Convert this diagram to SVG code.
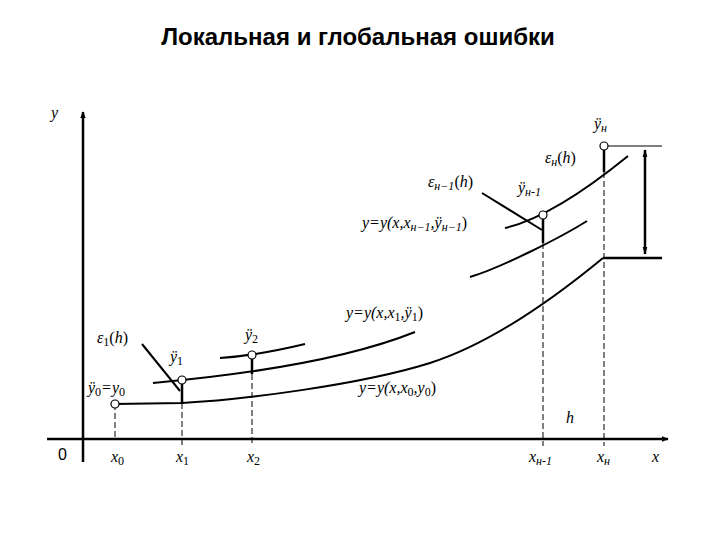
<svg xmlns="http://www.w3.org/2000/svg" width="720" height="540" viewBox="0 0 720 540">
<defs>
<marker id="ah" viewBox="0 0 10 10" refX="9" refY="5" markerWidth="7" markerHeight="7" orient="auto-start-reverse" markerUnits="userSpaceOnUse">
<path d="M0,1 L10,5 L0,9 z" fill="#000"/>
</marker>
<marker id="ah2" viewBox="0 0 10 10" refX="9" refY="5" markerWidth="8" markerHeight="8" orient="auto-start-reverse" markerUnits="userSpaceOnUse">
<path d="M0,2 L10,5 L0,8 z" fill="#000"/>
</marker>
</defs>
<style>
.t{font-family:'Liberation Serif','DejaVu Serif',serif;font-style:italic;font-size:16px;fill:#000}
.title{font-family:'Liberation Sans',Arial,sans-serif;font-weight:bold;font-size:24px;fill:#000}
.curve{fill:none;stroke:#000;stroke-width:2}
.thick{fill:none;stroke:#000;stroke-width:2.5}
.dash{fill:none;stroke:#000;stroke-width:1;stroke-dasharray:6,3}
.pt{fill:#fff;stroke:#000;stroke-width:1.2}
.sub{font-size:12px}
.up{font-style:normal}
</style>
<rect width="720" height="540" fill="#fff"/>
<text class="title" x="358" y="45" text-anchor="middle">Локальная и глобальная ошибки</text>

<g id="axes">
<line x1="47" y1="439" x2="668" y2="439" stroke="#000" stroke-width="2.5" marker-end="url(#ah)"/>
<line x1="83" y1="462" x2="83" y2="112" stroke="#000" stroke-width="2.5" marker-end="url(#ah)"/>
<text class="t" x="51" y="118">y</text>
<text x="58" y="460" style="font-family:'Liberation Sans',Arial,sans-serif;font-size:16px">0</text>
<text class="t" x="111" y="462">x<tspan class="sub up" dy="3">0</tspan></text>
<text class="t" x="176" y="462">x<tspan class="sub up" dy="3">1</tspan></text>
<text class="t" x="247" y="462">x<tspan class="sub up" dy="3">2</tspan></text>
<text class="t" x="529" y="462">x<tspan class="sub" dy="3">н-1</tspan></text>
<text class="t" x="597" y="462">x<tspan class="sub" dy="3">н</tspan></text>
<text class="t" x="652" y="462">x</text>
</g>

<g id="connectors">
<line class="dash" x1="115" y1="404" x2="115" y2="440"/>
<line class="dash" x1="182" y1="403" x2="182" y2="446"/>
<line class="dash" x1="252" y1="374" x2="252" y2="446"/>
<line class="dash" x1="543" y1="243" x2="543" y2="446"/>
<line class="dash" x1="604" y1="172" x2="604" y2="446"/>
<line class="thick" x1="182" y1="380" x2="182" y2="403"/>
<line class="thick" x1="252" y1="355" x2="252" y2="374"/>
<line class="thick" x1="543" y1="215" x2="543" y2="243"/>
<line class="thick" x1="604" y1="146" x2="604" y2="172"/>
<line class="curve" x1="142" y1="344" x2="180" y2="391"/>
<line class="curve" x1="482" y1="193" x2="542" y2="230"/>
<line x1="604" y1="146" x2="662" y2="146" stroke="#000" stroke-width="1.2"/>
<line x1="603" y1="258" x2="662" y2="258" stroke="#000" stroke-width="2.5"/>
<line x1="645" y1="150" x2="645" y2="254" stroke="#000" stroke-width="2.5" marker-start="url(#ah2)" marker-end="url(#ah2)"/>
</g>

<g id="curve-y0">
<path class="curve" d="M115,404 L182,403 C240,400 360,385 430,363 C480,347 540,310 603,258"/>
<text class="t" x="359" y="393">y=y(x,x<tspan class="sub up" dy="3">0</tspan><tspan dy="-3">,y</tspan><tspan class="sub up" dy="3">0</tspan><tspan class="up" dy="-3">)</tspan></text>
</g>
<g id="curve-y1">
<path class="curve" d="M153,383 C230,376 340,362 415,332"/>
<text class="t" x="346" y="318">y=y(x,x<tspan class="sub up" dy="3">1</tspan><tspan dy="-3">,ÿ</tspan><tspan class="sub up" dy="3">1</tspan><tspan class="up" dy="-3">)</tspan></text>
</g>
<g id="curve-y2">
<path class="curve" d="M220,358 C250,356 280,350 305,344"/>
</g>
<g id="curve-prev">
<path class="curve" d="M470,277 C500,268 560,238 587,221"/>
</g>
<g id="curve-yn1">
<path class="curve" d="M505,228 C540,220 580,195 628,156"/>
<text class="t" x="362" y="228">y=y(x,x<tspan class="sub" dy="3">н−1</tspan><tspan dy="-3">,ÿ</tspan><tspan class="sub" dy="3">н−1</tspan><tspan class="up" dy="-3">)</tspan></text>
</g>

<g id="p0">
<circle class="pt" cx="115" cy="404" r="4"/>
<text class="t" x="88" y="393">ÿ<tspan class="sub up" dy="3">0</tspan><tspan dy="-3">=y</tspan><tspan class="sub up" dy="3">0</tspan></text>
</g>
<g id="p1">
<circle class="pt" cx="182" cy="380" r="4"/>
<text class="t" x="170" y="362">ÿ<tspan class="sub up" dy="3">1</tspan></text>
<text class="t" x="97" y="343">ε<tspan class="sub up" dy="3">1</tspan><tspan class="up" dy="-3">(</tspan>h<tspan class="up">)</tspan></text>
</g>
<g id="p2">
<circle class="pt" cx="252" cy="355" r="4"/>
<text class="t" x="245" y="340">ÿ<tspan class="sub up" dy="3">2</tspan></text>
</g>
<g id="pn1">
<circle class="pt" cx="543" cy="215" r="4"/>
<text class="t" x="518" y="193">ÿ<tspan class="sub" dy="3">н-1</tspan></text>
<text class="t" x="428" y="187">ε<tspan class="sub" dy="3">н−1</tspan><tspan class="up" dy="-3">(</tspan>h<tspan class="up">)</tspan></text>
</g>
<g id="pn">
<circle class="pt" cx="604" cy="146" r="4"/>
<text class="t" x="594" y="129">ÿ<tspan class="sub" dy="3">н</tspan></text>
<text class="t" x="545" y="163">ε<tspan class="sub" dy="3">н</tspan><tspan class="up" dy="-3">(</tspan>h<tspan class="up">)</tspan></text>
</g>
<text class="t" x="566" y="423">h</text>
</svg>
